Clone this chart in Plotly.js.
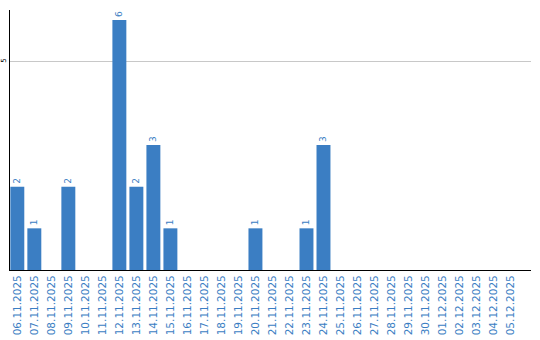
<!DOCTYPE html>
<html><head><meta charset="utf-8">
<script src="https://cdn.plot.ly/plotly-3.0.1.min.js"></script>
<style>html,body{margin:0;padding:0;background:#fff}#c{width:540px;height:340px}</style>
</head><body><div id="c"></div>
<script>
const dates = ["06.11.2025","07.11.2025","08.11.2025","09.11.2025","10.11.2025","11.11.2025","12.11.2025","13.11.2025","14.11.2025","15.11.2025","16.11.2025","17.11.2025","18.11.2025","19.11.2025","20.11.2025","21.11.2025","22.11.2025","23.11.2025","24.11.2025","25.11.2025","26.11.2025","27.11.2025","28.11.2025","29.11.2025","30.11.2025","01.12.2025","02.12.2025","03.12.2025","04.12.2025","05.12.2025"];
const counts = [2,1,0,2,0,0,6,2,3,1,0,0,0,0,1,0,0,1,3,0,0,0,0,0,0,0,0,0,0,0];
const blue = "#3b7ec3";
const trace = {
  type: "bar", x: dates, y: counts,
  text: counts.map(v => v > 0 ? String(v) : ""),
  textposition: "outside", textangle: -90, cliponaxis: false,
  textfont: {family: "DejaVu Sans", size: 9, color: blue},
  marker: {color: blue}, hoverinfo: "none"
};
const layout = {
  width: 540, height: 340,
  margin: {l: 10, r: 9, t: 10, b: 70},
  paper_bgcolor: "#fff", plot_bgcolor: "#fff",
  showlegend: false, bargap: 0.18,
  xaxis: {type: "category", range: [-0.43, 30.2], showline: true, linecolor: "#000", linewidth: 1,
    showgrid: false, ticks: "", tickangle: -90, tickfont: {family: "DejaVu Sans", size: 10.5, color: blue}},
  yaxis: {range: [0, 6.24], tickvals: [5], ticktext: ["5"], showline: true, linecolor: "#000", linewidth: 1,
    showgrid: true, gridcolor: "#c8c8c8", gridwidth: 1, zeroline: false, ticks: "", tickangle: -90,
    tickfont: {family: "DejaVu Sans", size: 7, color: "#000"}}
};
Plotly.newPlot("c", [trace], layout, {staticPlot: true, displayModeBar: false});
</script></body></html>
